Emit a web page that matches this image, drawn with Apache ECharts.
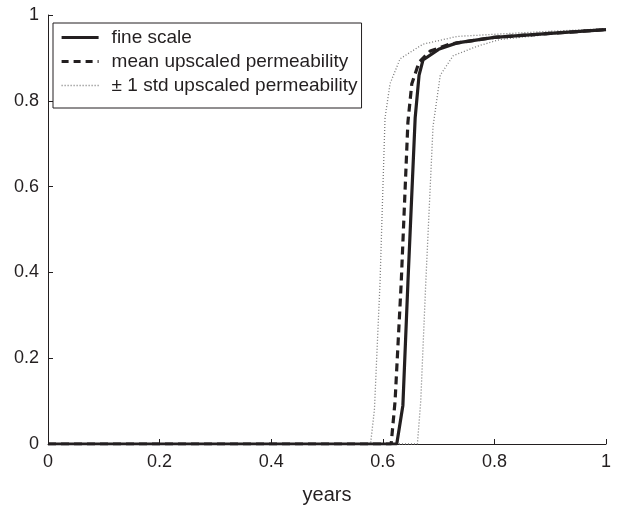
<!DOCTYPE html>
<html>
<head>
<meta charset="utf-8">
<script src="https://cdn.jsdelivr.net/npm/echarts@6/dist/echarts.min.js"></script>
<style>html,body{margin:0;padding:0;background:#fff;}#c{width:619px;height:510px;}</style>
</head>
<body>
<div id="c"></div>
<script>
// Data
var fineX = [0, 0.625, 0.636, 0.645, 0.658, 0.665, 0.672, 0.70, 0.733, 0.8, 0.9, 1.0];
var fineY = [0, 0, 0.09, 0.376, 0.76, 0.86, 0.895, 0.92, 0.935, 0.948, 0.957, 0.966];
var meanX = [0, 0.615, 0.622, 0.633, 0.645, 0.652, 0.665, 0.685, 0.72, 0.8, 0.9, 1.0];
var meanY = [0, 0, 0.1, 0.376, 0.75, 0.84, 0.89, 0.916, 0.932, 0.948, 0.957, 0.966];
var lowX = [0, 0.578, 0.585, 0.595, 0.604, 0.613, 0.631, 0.672, 0.733, 0.8, 0.9, 1.0];
var lowY = [0, 0, 0.08, 0.376, 0.76, 0.84, 0.898, 0.932, 0.95, 0.955, 0.962, 0.968];
var highX = [0, 0.662, 0.668, 0.677, 0.69, 0.703, 0.726, 0.769, 0.81, 0.9, 1.0];
var highY = [0, 0, 0.1, 0.376, 0.74, 0.86, 0.905, 0.927, 0.943, 0.955, 0.965];
var xTicks = [0, 0.2, 0.4, 0.6, 0.8, 1];
var yTicks = [0, 0.2, 0.4, 0.6, 0.8, 1];
var names = ['fine scale', 'mean upscaled permeability', '\u00B1 1 std upscaled permeability'];

function pairs(xs, ys) { return xs.map(function (x, i) { return [x, ys[i]]; }); }

var chart = echarts.init(document.getElementById('c'), null, {renderer: 'canvas'});
var font = 'Liberation Sans, Arial, Helvetica, sans-serif';
var axisCommon = {
  min: 0, max: 1, interval: 0.2,
  axisLine: {show: true, lineStyle: {color: '#231f20', width: 1}},
  axisTick: {show: true, inside: true, length: 5, lineStyle: {color: '#231f20'}},
  splitLine: {show: false},
  axisLabel: {fontSize: 18, color: '#231f20', fontFamily: font, margin: 9}
};
var solidStyle = {color: '#231f20', width: 3.2, type: 'solid'};
var dashStyle = {color: '#231f20', width: 3.2, type: [8, 5]};
var dotStyle = {color: '#7a7a7a', width: 1.3, type: [1, 2]};
chart.setOption({
  animation: false,
  backgroundColor: '#fff',
  grid: {left: 48, right: 13, top: 15, bottom: 54},
  legend: {
    show: true,
    orient: 'vertical',
    left: 53, top: 23,
    data: [
      {name: names[0], lineStyle: solidStyle},
      {name: names[1], lineStyle: {color: '#231f20', width: 3.2, type: [7, 5]}},
      {name: names[2], lineStyle: dotStyle}
    ],
    backgroundColor: '#fff',
    borderColor: '#231f20', borderWidth: 1,
    padding: [5, 4, 13, 7],
    itemWidth: 37, itemHeight: 14, itemGap: 5,
    itemStyle: {opacity: 0},
    textStyle: {fontSize: 19, color: '#231f20', fontFamily: font, padding: [0, 0, 0, 8]}
  },
  xAxis: Object.assign({}, axisCommon, {
    type: 'value', name: 'years', nameLocation: 'middle', nameGap: 41,
    nameTextStyle: {fontSize: 20, color: '#231f20', fontFamily: font}
  }),
  yAxis: Object.assign({}, axisCommon, {type: 'value'}),
  series: [
    {name: names[2], type: 'line', symbol: 'none', data: pairs(lowX, lowY),
     lineStyle: dotStyle, itemStyle: {color: '#7a7a7a'}},
    {name: names[2], type: 'line', symbol: 'none', data: pairs(highX, highY),
     lineStyle: dotStyle, itemStyle: {color: '#7a7a7a'}},
    {name: names[1], type: 'line', symbol: 'none', data: pairs(meanX, meanY),
     lineStyle: dashStyle, itemStyle: {color: '#231f20'}},
    {name: names[0], type: 'line', symbol: 'none', data: pairs(fineX, fineY),
     lineStyle: solidStyle, itemStyle: {color: '#231f20'}}
  ]
});
</script>
</body>
</html>
